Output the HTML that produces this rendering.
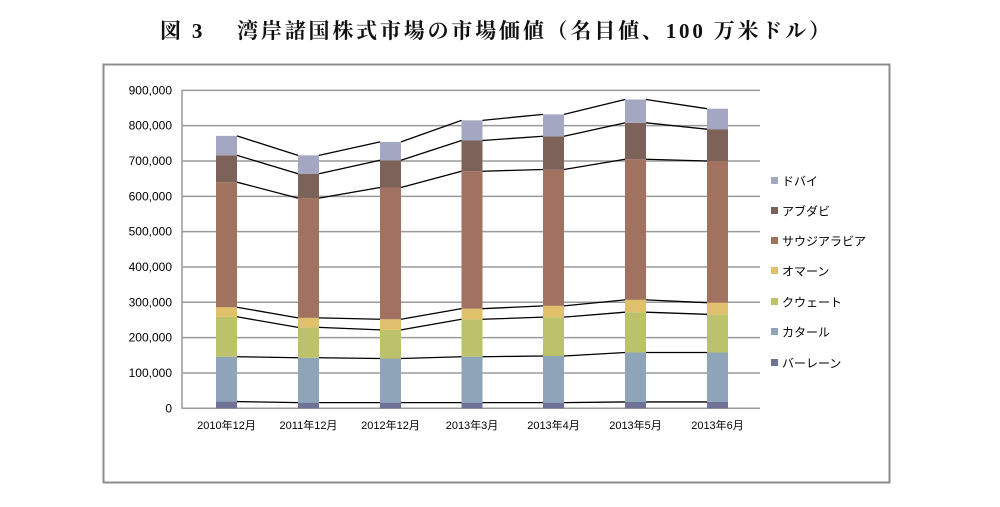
<!DOCTYPE html>
<html><head><meta charset="utf-8"><style>
body{margin:0;background:#fff}
svg text{font-family:"Liberation Sans","Noto Sans CJK JP",sans-serif}
</style></head><body>
<svg width="1000" height="502" xmlns="http://www.w3.org/2000/svg">
<text x="160" y="38" font-size="21" font-weight="bold" textLength="670" lengthAdjust="spacing" style="font-family:'Liberation Serif','Noto Serif CJK SC',serif" fill="#111">図 3　 湾岸諸国株式市場の市場価値（名目値、100 万米ドル）</text>
<rect x="103.5" y="64.5" width="786" height="418" fill="none" stroke="#8c8c8c" stroke-width="2"/>
<g id="grid" stroke="#9a9a9a" stroke-width="1.5"></g>
<g id="bars"></g><g id="lines" stroke="#000" stroke-width="1.3" fill="none"></g>
<g id="ylab" font-size="12" fill="#000" text-anchor="end"></g>
<g id="xlab" font-size="11" fill="#000" text-anchor="middle"></g>
<g id="leg" font-size="12" fill="#000"></g>
<script>
var ns="http://www.w3.org/2000/svg";
function el(p,t,a,txt){var e=document.createElementNS(ns,t);for(var k in a)e.setAttribute(k,a[k]);if(txt)e.textContent=txt;document.getElementById(p).appendChild(e);}
function Y(v){return 408.3-v*0.3533;}
for(var i=0;i<=9;i++){var y=Y(i*100);el('grid','line',{x1:182,x2:760,y1:y,y2:y});
el('ylab','text',{x:172,y:y+4},i==0?'0':(i*100)+',000');}
el('grid','line',{x1:182,x2:182,y1:90,y2:409});
var cum=[[19,146,259,286,640,716,771],[16,143,229,256,595,664,716],[16,141,222,252,625,702,754],[16,146,252,282,671,758,815],[16,148,258,290,676,770,832],[18,158,272,307,705,808,874],[18,158,266,299,700,790,848]];
var cols=['#6f7197','#8ea4b8','#bcc26a','#e0c06a','#a27260','#7d6259','#a3a7c2'];
var xs=[216,298,380,461.5,543,625,707],w=21;
var labs=['2010年12月','2011年12月','2012年12月','2013年3月','2013年4月','2013年5月','2013年6月'];
for(var b=0;b<7;b++){var prev=0;for(var s=0;s<7;s++){var v=cum[b][s];el('bars','rect',{x:xs[b],y:Y(v),width:w,height:Y(prev)-Y(v),fill:cols[s]});prev=v;}
el('xlab','text',{x:xs[b]+10.5,y:429},labs[b]);
if(b<6)for(var s=0;s<7;s++)el('lines','line',{x1:xs[b]+w,y1:Y(cum[b][s]),x2:xs[b+1],y2:Y(cum[b+1][s])});}
var ln=['ドバイ','アブダビ','サウジアラビア','オマーン','クウェート','カタール','バーレーン'],ly=[181,211,241,271,302,332,363];
for(var i=0;i<7;i++){el('leg','rect',{x:771,y:ly[i]-4,width:7,height:7,fill:cols[6-i]});el('leg','text',{x:782,y:ly[i]+4.5},ln[i]);}
</script>
</svg>
</body></html>
